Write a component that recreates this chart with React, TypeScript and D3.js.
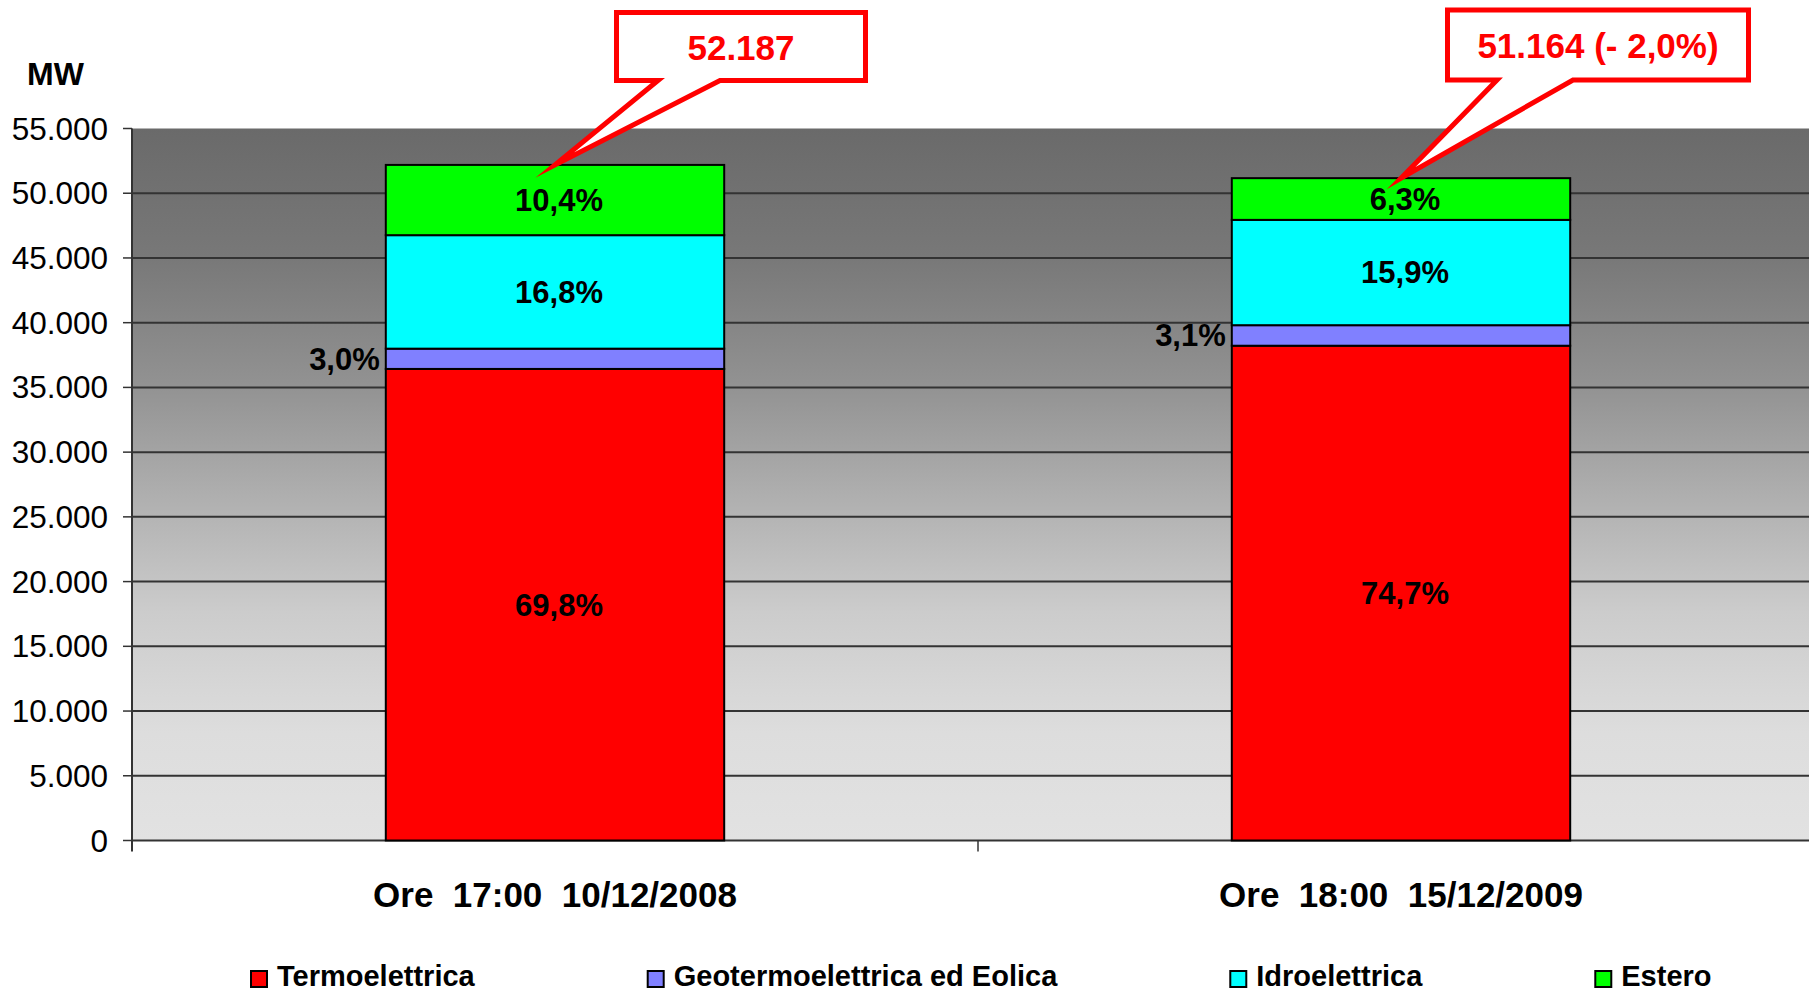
import React from 'react';
import * as d3 from 'd3';

// dati (MW)
const categories = ['Ore  17:00  10/12/2008', 'Ore  18:00  15/12/2009'];
const seriesNames = ['Termoelettrica', 'Geotermoelettrica ed Eolica', 'Idroelettrica', 'Estero'];
const seriesColors = ['#ff0000', '#8080ff', '#00ffff', '#00ff00'];
const termoelettrica = [36427, 38220];
const geotermoelettrica = [1566, 1586];
const idroelettrica = [8767, 8135];
const estero = [5427, 3223];
const pctLabels = [
  ['69,8%', '3,0%', '16,8%', '10,4%'],
  ['74,7%', '3,1%', '15,9%', '6,3%'],
];
const calloutTexts = ['52.187', '51.164 (- 2,0%)'];
const yTicks = [0, 5000, 10000, 15000, 20000, 25000, 30000, 35000, 40000, 45000, 50000, 55000];

const W = 1809;
const H = 991;
const FONT = "'Liberation Sans', Arial, sans-serif";

const plot = { left: 132, right: 1824, top: 128.5, bottom: 840.5 };

// callout box geometry (box left/top/width/height, tail base offsets from box left)
const callouts = [
  { x: 616.5, y: 12.5, w: 249, h: 68, t1: 41.5, t2: 103.5, ty: 60 },
  { x: 1447.5, y: 10, w: 301, h: 70, t1: 49.5, t2: 125.5, ty: 58 },
];

const fmt = (v: number) => d3.format(',')(v).replace(/,/g, '.');

function measure(text: string, font: string) {
  const c = document.createElement('canvas').getContext('2d');
  if (!c) return text.length * 16;
  c.font = font;
  return c.measureText(text).width;
}

export default function App() {
  const rows = categories.map((c, i) => ({
    cat: c,
    s0: termoelettrica[i],
    s1: geotermoelettrica[i],
    s2: idroelettrica[i],
    s3: estero[i],
  }));
  const stacked = d3.stack<any>().keys(['s0', 's1', 's2', 's3'])(rows);

  const x = d3.scaleBand().domain(categories).range([plot.left, plot.right]).paddingInner(0.6).paddingOuter(0.3);
  const y = d3.scaleLinear().domain([0, 55000]).range([plot.bottom, plot.top]);
  const bw = x.bandwidth();

  // legend layout
  const legendFont = `bold 29px ${FONT}`;
  let lx = 251;
  const legendItems = seriesNames.map((n, i) => {
    const item = { name: n, color: seriesColors[i], x: lx };
    lx += 26 + measure(n, legendFont) + 173;
    return item;
  });

  const mid = (x(categories[0])! + bw + x(categories[1])!) / 2;

  return (
    <svg width={W} height={H} style={{ position: 'absolute', left: 0, top: 0, display: 'block', background: '#fff' }} fontFamily={FONT}>
      <defs>
        <linearGradient id="bg" x1="0" y1="0" x2="0" y2="1">
          <stop offset="0" stopColor="#6a6a6a" />
          <stop offset="0.18" stopColor="#787878" />
          <stop offset="0.36" stopColor="#929292" />
          <stop offset="0.55" stopColor="#b5b5b5" />
          <stop offset="0.68" stopColor="#cccccc" />
          <stop offset="0.85" stopColor="#dddddd" />
          <stop offset="1" stopColor="#e2e2e2" />
        </linearGradient>
      </defs>

      <rect x={plot.left} y={plot.top} width={plot.right - plot.left} height={plot.bottom - plot.top} fill="url(#bg)" />

      {/* gridlines + y ticks */}
      {yTicks.map(t => (
        <g key={t}>
          {t > 0 && t < 55000 && (
            <line x1={plot.left} x2={plot.right} y1={y(t)} y2={y(t)} stroke="#333" strokeWidth={2} />
          )}
          <line x1={plot.left - 9} x2={plot.left} y1={y(t)} y2={y(t)} stroke="#333" strokeWidth={1.5} />
          <text x={108} y={y(t)} dy="0.35em" textAnchor="end" fontSize={31.5} fill="#000">
            {fmt(t)}
          </text>
        </g>
      ))}

      {/* axes */}
      <line x1={plot.left} x2={plot.left} y1={plot.top} y2={plot.bottom + 11} stroke="#333" strokeWidth={2} />
      <line x1={plot.left} x2={plot.right} y1={plot.bottom} y2={plot.bottom} stroke="#333" strokeWidth={2} />
      <line x1={mid} x2={mid} y1={plot.bottom} y2={plot.bottom + 11} stroke="#333" strokeWidth={1.5} />

      {/* bars */}
      {stacked.map((layer, si) => (
        <g key={si}>
          {layer.map((d, ci) => (
            <rect
              key={ci}
              x={x(categories[ci])}
              y={y(d[1])}
              width={bw}
              height={y(d[0]) - y(d[1])}
              fill={seriesColors[si]}
              stroke="#000"
              strokeWidth={2}
            />
          ))}
        </g>
      ))}

      {/* percentage labels */}
      {stacked.map((layer, si) =>
        layer.map((d, ci) => {
          const cy = (y(d[0]) + y(d[1])) / 2;
          const outside = si === 1;
          const lxp = outside ? x(categories[ci])! - 6 : x(categories[ci])! + bw / 2 + 4;
          return (
            <text
              key={`${si}-${ci}`}
              x={lxp}
              y={cy}
              dy="0.35em"
              textAnchor={outside ? 'end' : 'middle'}
              fontSize={31}
              fontWeight="bold"
              fill="#000"
            >
              {pctLabels[ci][si]}
            </text>
          );
        })
      )}

      {/* category labels */}
      {categories.map(c => (
        <text key={c} x={x(c)! + bw / 2} y={907} textAnchor="middle" fontSize={35} fontWeight="bold" fill="#000" style={{ whiteSpace: 'pre' }}>
          {c}
        </text>
      ))}

      {/* MW */}
      <text x={27} y={85} fontSize={32} fontWeight="bold" fill="#000">MW</text>

      {/* callouts */}
      {callouts.map((co, i) => {
        const tipX = x(categories[i])! + bw / 2;
        const top = stacked[stacked.length - 1][i][1];
        const tipY = y(top);
        const b = co.y + co.h;
        const path = `M${co.x},${co.y} H${co.x + co.w} V${b} H${co.x + co.t2} L${tipX},${tipY} L${co.x + co.t1},${b} H${co.x} Z`;
        return (
          <g key={i}>
            <path d={path} fill="#fff" stroke="#ff0000" strokeWidth={5} strokeLinejoin="miter" strokeMiterlimit={20} />
            <text x={co.x + co.w / 2} y={co.ty} textAnchor="middle" fontSize={35} fontWeight="bold" fill="#ff0000" style={{ whiteSpace: 'pre' }}>
              {calloutTexts[i]}
            </text>
          </g>
        );
      })}

      {/* legend */}
      {legendItems.map(it => (
        <g key={it.name}>
          <rect x={it.x} y={971} width={16} height={16} fill={it.color} stroke="#000" strokeWidth={2} />
          <text x={it.x + 26} y={986} fontSize={29} fontWeight="bold" fill="#000">{it.name}</text>
        </g>
      ))}
    </svg>
  );
}
